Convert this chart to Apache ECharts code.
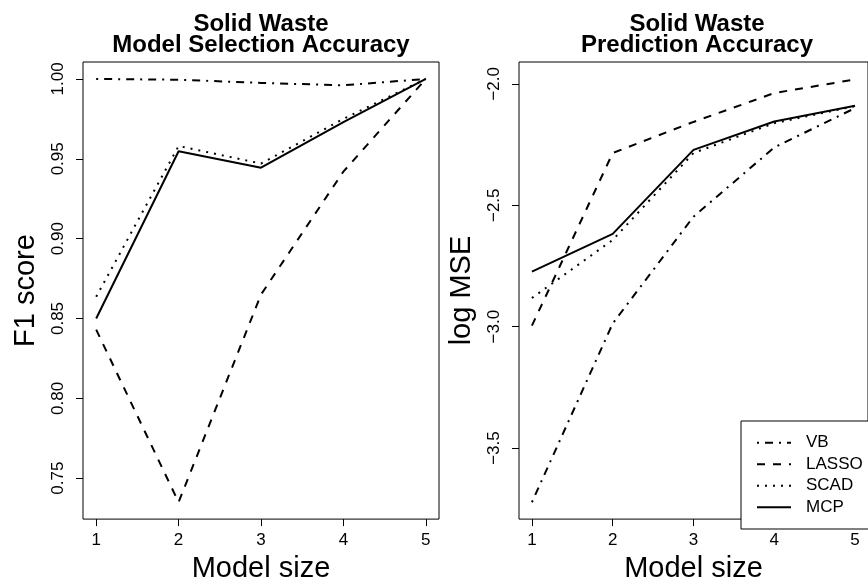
<!DOCTYPE html>
<html>
<head>
<meta charset="utf-8">
<script src="https://cdn.jsdelivr.net/npm/echarts@6/dist/echarts.min.js"></script>
<style>
html,body{margin:0;padding:0;background:#fff;}
#c{width:868px;height:588px;}
</style>
</head>
<body>
<div id="c"></div>
<script>
// ---- data ----
const modelSizes = [1, 2, 3, 4, 5];
const xTicks = [1, 2, 3, 4, 5];
const f1Ticks = [0.75, 0.80, 0.85, 0.90, 0.95, 1.00];
const mseTicks = [-3.5, -3.0, -2.5, -2.0];
const methods = ['VB', 'LASSO', 'SCAD', 'MCP'];

const f1_VB    = [1.000, 0.9995, 0.9975, 0.996, 1.000];
const f1_LASSO = [0.843, 0.735, 0.865, 0.942, 1.000];
const f1_SCAD  = [0.8636, 0.958, 0.947, 0.975, 1.000];
const f1_MCP   = [0.850, 0.9547, 0.9444, 0.973, 1.000];

const mse_VB    = [-3.723, -2.987, -2.547, -2.262, -2.100];
const mse_LASSO = [-2.996, -2.285, -2.157, -2.038, -1.982];
const mse_SCAD  = [-2.882, -2.643, -2.285, -2.162, -2.092];
const mse_MCP   = [-2.773, -2.618, -2.272, -2.155, -2.090];

// ---- styling ----
const FONT = 'Liberation Sans, Arial, Helvetica, sans-serif';
const dashes = { VB: [2, 6, 8, 6], LASSO: [8, 8], SCAD: [2, 6], MCP: 'solid' };

function pairs(ys) { return modelSizes.map((x, i) => [x, ys[i]]); }
function mkSeries(name, ys, idx) {
  return {
    type: 'line', name: name, data: pairs(ys),
    xAxisIndex: idx, yAxisIndex: idx,
    symbol: 'none', showSymbol: false, smooth: false, animation: false,
    lineStyle: { color: '#000', width: 2, type: dashes[name], cap: 'butt' },
    itemStyle: { color: '#000' },
    z: 2
  };
}
function xAxis(idx) {
  return {
    type: 'value', gridIndex: idx, min: 0.84, max: 5.16,
    axisLine: { show: false },
    splitLine: { show: false },
    axisTick: { show: true, inside: false, length: 7, customValues: xTicks, lineStyle: { color: '#000', width: 1 } },
    axisLabel: { customValues: xTicks, margin: 13, color: '#000', fontSize: 17, fontFamily: FONT },
    name: 'Model size', nameLocation: 'middle', nameGap: 30,
    nameTextStyle: { fontSize: 29, color: '#000', fontFamily: FONT }
  };
}
function yAxis(idx, min, max, ticks, fmt, title) {
  return {
    type: 'value', gridIndex: idx, min: min, max: max,
    axisLine: { show: false },
    splitLine: { show: false },
    axisTick: { show: true, inside: false, length: 7, customValues: ticks, lineStyle: { color: '#000', width: 1 } },
    axisLabel: { customValues: ticks, margin: 16, rotate: 90, color: '#000', fontSize: 17, fontFamily: FONT, formatter: fmt },
    name: title, nameLocation: 'middle', nameGap: 43,
    nameTextStyle: { fontSize: 29, color: '#000', fontFamily: FONT }
  };
}

const chart = echarts.init(document.getElementById('c'), null, { renderer: 'canvas' });
chart.setOption({
  backgroundColor: '#fff',
  animation: false,
  grid: [
    { left: 83, top: 62, width: 356, height: 467, show: true, borderColor: '#000', borderWidth: 1, backgroundColor: 'transparent' },
    { left: 519, top: 62, width: 356, height: 467, show: true, borderColor: '#000', borderWidth: 1, backgroundColor: 'transparent' }
  ],
  xAxis: [xAxis(0), xAxis(1)],
  yAxis: [
    yAxis(0, 0.7244, 1.0106, f1Ticks, v => v.toFixed(2), 'F1 score'),
    yAxis(1, -3.7924, -1.9102, mseTicks, v => v.toFixed(1).replace('-', '\u2212'), 'log MSE')
  ],
  graphic: [
    { type: 'text', x: 261, y: 24.5, style: { text: 'Solid Waste', font: 'bold 24px ' + FONT, fill: '#000', align: 'center', verticalAlign: 'middle' } },
    { type: 'text', x: 261, y: 45.5, style: { text: 'Model Selection Accuracy', font: 'bold 24px ' + FONT, fill: '#000', align: 'center', verticalAlign: 'middle' } },
    { type: 'text', x: 697, y: 24.5, style: { text: 'Solid Waste', font: 'bold 24px ' + FONT, fill: '#000', align: 'center', verticalAlign: 'middle' } },
    { type: 'text', x: 697, y: 45.5, style: { text: 'Prediction Accuracy', font: 'bold 24px ' + FONT, fill: '#000', align: 'center', verticalAlign: 'middle' } }
  ],
  legend: {
    data: methods,
    orient: 'vertical',
    left: 741, top: 421,
    padding: [11, 20, 11, 15],
    itemGap: 0,
    itemWidth: 34, itemHeight: 14,
    backgroundColor: '#fff',
    borderColor: '#000', borderWidth: 1,
    selectedMode: false,
    itemStyle: { color: 'transparent', borderColor: 'transparent', borderWidth: 0, opacity: 0 },
    textStyle: { fontSize: 17, color: '#000', fontFamily: FONT, lineHeight: 21.5, padding: [0, 0, 0, 10] },
    z: 10
  },
  series: [
    mkSeries('VB', f1_VB, 0),
    mkSeries('LASSO', f1_LASSO, 0),
    mkSeries('SCAD', f1_SCAD, 0),
    mkSeries('MCP', f1_MCP, 0),
    mkSeries('VB', mse_VB, 1),
    mkSeries('LASSO', mse_LASSO, 1),
    mkSeries('SCAD', mse_SCAD, 1),
    mkSeries('MCP', mse_MCP, 1)
  ]
});
</script>
</body>
</html>
